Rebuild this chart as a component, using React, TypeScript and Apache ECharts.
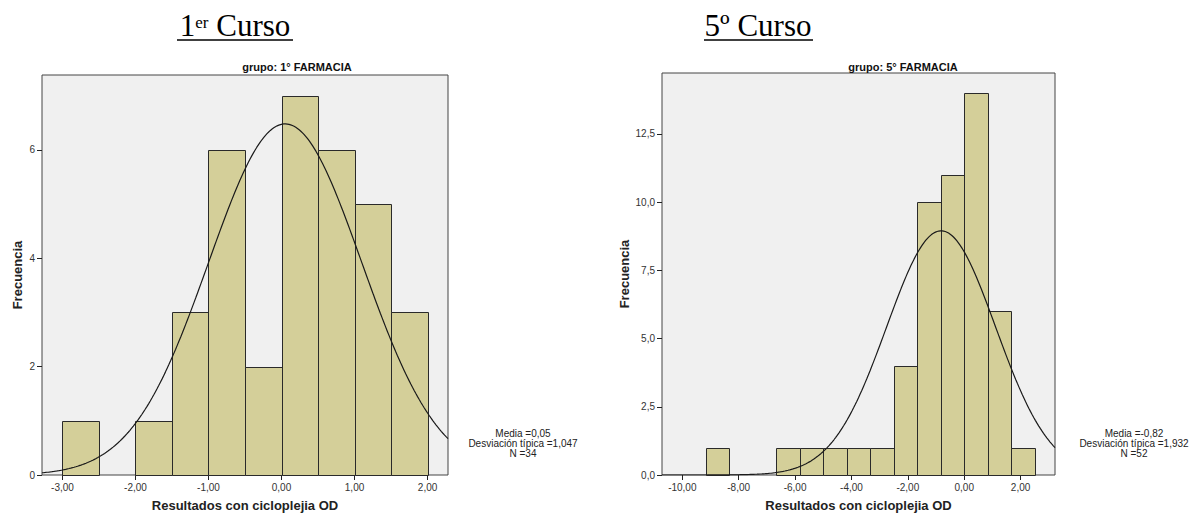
import React, { useEffect, useRef } from "react";
import * as echarts from "echarts";

// 1º FARMACIA histogram (bin width 0,5)
const binStarts1 = [-3, -2, -1.5, -1, -0.5, 0, 0.5, 1, 1.5];
const counts1 = [1, 1, 3, 6, 2, 7, 6, 5, 3];
const binWidth1 = 0.5;
const stats1 = { media: 0.05, desv: 1.047, n: 34 };
const xTicks1 = [-3, -2, -1, 0, 1, 2];
const yTicks1 = [0, 2, 4, 6];

// 5º FARMACIA histogram (bin width 0,8333)
const binStarts2 = [-9.1667, -6.6667, -5.8333, -5, -4.1667, -3.3333, -2.5, -1.6667, -0.8333, 0, 0.8333, 1.6667];
const counts2 = [1, 1, 1, 1, 1, 1, 4, 10, 11, 14, 6, 1];
const binWidth2 = 0.8333;
const stats2 = { media: -0.82, desv: 1.932, n: 52 };
const xTicks2 = [-10, -8, -6, -4, -2, 0, 2];
const yTicks2 = [0, 2.5, 5, 7.5, 10, 12.5];

const FONT = "Liberation Sans";
const SERIF = "Liberation Serif";
const BAR_FILL = "#D4CF99";

// Normal curve scaled to the histogram (N * bin width * density)
function normalCurve(media: number, desv: number, n: number, w: number, lo: number, hi: number) {
  const pts: number[][] = [];
  const steps = 240;
  for (let i = 0; i <= steps; i++) {
    const x = lo + ((hi - lo) * i) / steps;
    const z = (x - media) / desv;
    pts.push([x, (n * w * Math.exp(-0.5 * z * z)) / (desv * Math.sqrt(2 * Math.PI))]);
  }
  return pts;
}

const fmt = (d: number) => (v: number) => v.toFixed(d).replace(".", ",");

function xAxis(grid: number, min: number, max: number, ticks: number[]) {
  return {
    gridIndex: grid,
    type: "value",
    min,
    max,
    axisLine: { show: false, onZero: false },
    splitLine: { show: false },
    axisTick: { show: true, customValues: ticks, length: 5, lineStyle: { color: "#222" } },
    axisLabel: { customValues: ticks, formatter: fmt(2), fontSize: 10, color: "#333", fontFamily: FONT, margin: 7 },
    name: "Resultados con cicloplejia OD",
    nameLocation: "middle",
    nameGap: 24,
    nameTextStyle: { fontSize: 13, fontWeight: "bold", color: "#222", fontFamily: FONT },
  };
}

function yAxis(grid: number, max: number, ticks: number[], dec: number, gap: number) {
  return {
    gridIndex: grid,
    type: "value",
    min: 0,
    max,
    axisLine: { show: false, onZero: false },
    splitLine: { show: false },
    axisTick: { show: true, customValues: ticks, length: 5, lineStyle: { color: "#222" } },
    axisLabel: { customValues: ticks, formatter: fmt(dec), fontSize: 10, color: "#333", fontFamily: FONT, margin: 7 },
    name: "Frecuencia",
    nameLocation: "middle",
    nameGap: gap,
    nameTextStyle: { fontSize: 13, fontWeight: "bold", color: "#222", fontFamily: FONT },
  };
}

function histSeries(idx: number, starts: number[], counts: number[], w: number) {
  return {
    type: "custom",
    xAxisIndex: idx,
    yAxisIndex: idx,
    encode: { x: [0, 1], y: 2 },
    data: starts.map((s, i) => [s, s + w, counts[i]]),
    renderItem: (_p: any, api: any) => {
      const a = api.coord([api.value(0), api.value(2)]);
      const b = api.coord([api.value(1), 0]);
      const x0 = Math.round(a[0]) + 0.5;
      const x1 = Math.round(b[0]) + 0.5;
      const y0 = Math.round(a[1]) + 0.5;
      const y1 = Math.round(b[1]) + 0.5;
      return {
        type: "rect",
        shape: { x: x0, y: y0, width: x1 - x0, height: y1 - y0 },
        style: { fill: BAR_FILL, stroke: "#2a2a2a", lineWidth: 1 },
      };
    },
  };
}

function curveSeries(idx: number, data: number[][]) {
  return {
    type: "line",
    xAxisIndex: idx,
    yAxisIndex: idx,
    data,
    showSymbol: false,
    clip: true,
    z: 5,
    lineStyle: { color: "#1a1a1a", width: 1.2 },
  };
}

function heading(cx: number, main: string, sup: string, supSize: number, supPad: number, rest: string, underline: [number, number]) {
  return [
    {
      type: "text",
      x: cx,
      y: 9,
      style: {
        text: `{n|${main}}{s|${sup}}{n|${rest}}`,
        align: "center",
        verticalAlign: "top",
        rich: {
          n: { fontSize: 31, fontFamily: SERIF, fill: "#000", lineHeight: 32 },
          s: { fontSize: supSize, fontFamily: SERIF, fill: "#000", verticalAlign: "top", lineHeight: supSize + 2, padding: [supPad, 0, 0, 0] },
        },
      },
    },
    {
      type: "line",
      shape: { x1: underline[0], y1: 40, x2: underline[1], y2: 40 },
      style: { stroke: "#000", lineWidth: 1.6 },
    },
  ];
}

function statsText(cx: number, s: { media: number; desv: number; n: number }, size: number) {
  return {
    type: "text",
    x: cx,
    y: 429,
    style: {
      text: `Media =${s.media.toFixed(2).replace(".", ",")}\nDesviación típica =${s.desv.toFixed(3).replace(".", ",")}\nN =${s.n}`,
      align: "center",
      verticalAlign: "top",
      fontSize: size,
      lineHeight: 9.8,
      fontFamily: FONT,
      fill: "#222",
    },
  };
}

function subtitle(cx: number, text: string) {
  return {
    type: "text",
    x: cx,
    y: 61,
    style: { text, align: "center", verticalAlign: "top", fontSize: 11, fontWeight: "bold", fontFamily: FONT, fill: "#111" },
  };
}

export default function App() {
  const ref = useRef<HTMLDivElement>(null);

  useEffect(() => {
    if (!ref.current) return;
    const chart = echarts.init(ref.current, null, { renderer: "svg" });
    const x1 = [-3.28, 2.28];
    const x2 = [-10.72, 3.22];
    chart.setOption({
      animation: false,
      backgroundColor: "#fff",
      grid: [
        { left: 42, top: 75, width: 406, height: 401, show: true, backgroundColor: "#F0F0F0", borderColor: "#444", borderWidth: 1 },
        { left: 662, top: 73, width: 393, height: 403, show: true, backgroundColor: "#F0F0F0", borderColor: "#444", borderWidth: 1 },
      ],
      xAxis: [xAxis(0, x1[0], x1[1], xTicks1), xAxis(1, x2[0], x2[1], xTicks2)],
      yAxis: [yAxis(0, 7.38, yTicks1, 0, 18), yAxis(1, 14.73, yTicks2, 1, 31)],
      series: [
        histSeries(0, binStarts1, counts1, binWidth1),
        curveSeries(0, normalCurve(stats1.media, stats1.desv, stats1.n, binWidth1, x1[0], x1[1])),
        histSeries(1, binStarts2, counts2, binWidth2),
        curveSeries(1, normalCurve(stats2.media, stats2.desv, stats2.n, binWidth2, x2[0], x2[1])),
      ],
      graphic: [
        ...heading(235, "1", "er", 17, 5, " Curso", [177, 293]),
        ...heading(758, "5", "º", 31, 0, " Curso", [704, 813]),
        subtitle(297, "grupo: 1° FARMACIA"),
        subtitle(903, "grupo: 5° FARMACIA"),
        statsText(523, stats1, 10),
        statsText(1134, stats2, 10),
      ],
    });
    return () => chart.dispose();
  }, []);

  return <div ref={ref} style={{ position: "absolute", left: 0, top: 0, width: 1196, height: 517 }} />;
}
